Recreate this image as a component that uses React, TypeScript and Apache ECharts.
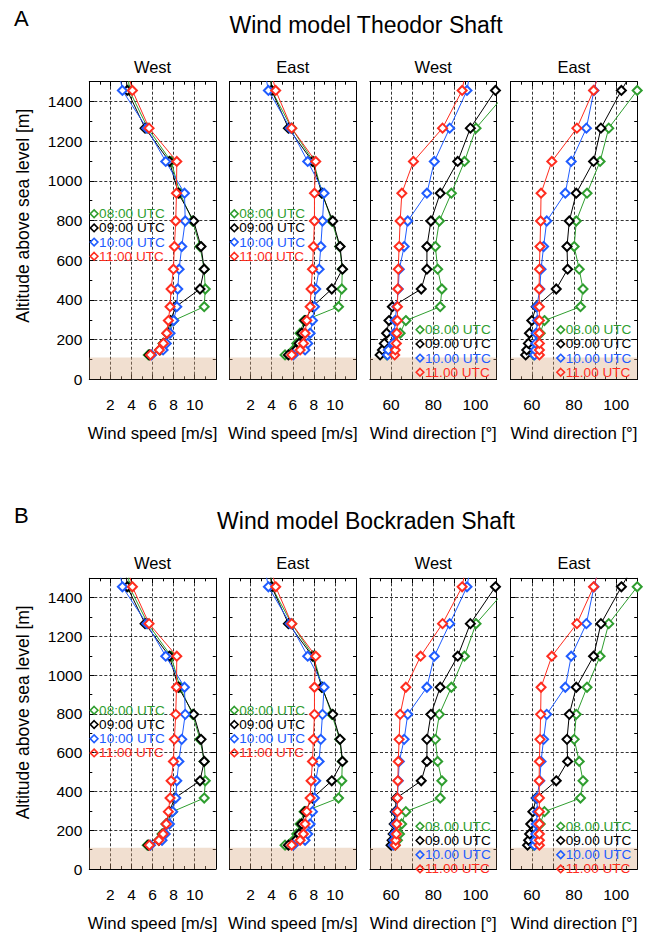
import React, { useEffect, useRef } from "react";
import * as echarts from "echarts";

// Altitude levels of the model [m]
const levels = [123, 148, 181, 232, 296, 366, 455, 555, 669, 798, 938, 1098, 1266, 1456, 1650];
const timesSpeed = ["08:00 UTC", "09:00 UTC", "10:00 UTC", "11:00 UTC"];
const timesDir = ["08.00 UTC", "09.00 UTC", "10.00 UTC", "11.00 UTC"];
const seriesColors = ["#2f9e2f", "#000000", "#1f5cff", "#ff2d1f"];

const sectionLetters = ["A", "B"];
const sectionTitles = ["Wind model Theodor Shaft", "Wind model Bockraden Shaft"];
const panelTitles = ["West", "East", "West", "East"];
const panelXNames = ["Wind speed [m/s]", "Wind speed [m/s]", "Wind direction [°]", "Wind direction [°]"];
const yName = "Altitude above sea level [m]";

// Theodor Shaft (A): each row = 08, 09, 10, 11 UTC, values per level
const theodorWestSpeed = [
  [5.6, 6.7, 7.0, 7.4, 8.0, 10.9, 11.0, 10.9, 10.5, 9.8, 8.6, 7.76, 5.55, 3.8, 3.5],
  [5.7, 6.7, 7.05, 7.4, 7.7, 8.2, 10.5, 10.9, 10.6, 9.9, 8.45, 7.6, 5.29, 3.6, 3.3],
  [5.9, 7.0, 7.3, 7.66, 8.0, 8.3, 8.39, 8.52, 8.77, 9.1, 9.03, 7.25, 5.45, 3.14, 2.5],
  [5.8, 6.65, 7.03, 7.35, 7.5, 7.66, 7.76, 7.98, 8.07, 8.2, 8.27, 8.3, 5.67, 4.09, 3.2],
];
const theodorEastSpeed = [
  [5.27, 6.06, 6.38, 6.69, 7.08, 10.34, 10.65, 10.7, 10.45, 9.7, 8.8, 7.96, 5.9, 4.0, 3.8],
  [5.59, 6.28, 6.6, 6.85, 7.17, 7.87, 9.7, 10.72, 10.49, 9.8, 8.75, 7.87, 5.59, 4.0, 3.7],
  [6.06, 7.17, 7.42, 7.65, 7.87, 8.06, 8.18, 8.5, 8.66, 8.82, 8.97, 7.42, 5.75, 3.69, 3.0],
  [5.9, 6.7, 7.01, 7.17, 7.33, 7.65, 7.74, 7.87, 7.96, 8.06, 8.06, 8.18, 5.9, 4.38, 3.5],
];
const theodorWestDir = [
  [58, 60, 62, 64.3, 67, 83.3, 84.1, 82.1, 81, 82.9, 88.6, 94.8, 100.3, 115.6, 128],
  [54.8, 55.9, 56.8, 57.9, 59, 60.6, 74.3, 77, 77, 78.9, 83.3, 91.6, 97.6, 109.5, 122],
  [58.3, 58.7, 61, 61.6, 61.9, 62.7, 63.4, 63.9, 66.2, 67.9, 77, 80.5, 87.8, 96, 99],
  [61.7, 62, 62.5, 62.7, 63, 63, 63.2, 63.4, 63.8, 64.3, 65.1, 70.6, 84.4, 93.7, 97],
];
const theodorEastDir = [
  [61, 62, 63, 64, 66, 83.1, 84.3, 82.5, 80.1, 81.1, 86.2, 92.4, 96.5, 110, 122],
  [57.1, 57.6, 58.4, 58.9, 60, 62.1, 71.6, 77, 76.7, 77.8, 81.1, 89.3, 92.8, 102.5, 113],
  [61.3, 61.6, 61.9, 62.1, 62.7, 62.4, 63.8, 64.4, 65.6, 67.1, 75.9, 78.7, 85.9, 89.5, 94],
  [63.6, 63.6, 63.6, 63.6, 63.6, 63.6, 63.5, 63.6, 63.9, 64.2, 64.4, 69.5, 81.4, 89.3, 95],
];

// Bockraden Shaft (B)
const bockradenWestSpeed = [
  [5.5, 6.6, 6.9, 7.3, 7.9, 10.9, 11.0, 10.9, 10.5, 9.8, 8.6, 7.76, 5.55, 3.8, 3.5],
  [5.6, 6.6, 7.0, 7.3, 7.6, 8.1, 10.5, 10.9, 10.6, 9.9, 8.45, 7.6, 5.29, 3.6, 3.3],
  [5.8, 6.9, 7.2, 7.6, 7.9, 8.2, 8.3, 8.5, 8.77, 9.1, 9.03, 7.25, 5.45, 3.14, 2.5],
  [5.7, 6.6, 7.0, 7.3, 7.5, 7.66, 7.76, 7.98, 8.07, 8.2, 8.27, 8.3, 5.67, 4.09, 3.2],
];
const bockradenEastSpeed = [
  [5.27, 6.06, 6.38, 6.69, 7.08, 10.34, 10.65, 10.7, 10.45, 9.7, 8.8, 7.96, 5.9, 4.0, 3.8],
  [5.59, 6.28, 6.6, 6.85, 7.17, 7.87, 9.7, 10.72, 10.49, 9.8, 8.75, 7.87, 5.59, 4.0, 3.7],
  [6.06, 7.17, 7.42, 7.65, 7.87, 8.06, 8.18, 8.5, 8.66, 8.82, 8.97, 7.42, 5.75, 3.69, 3.0],
  [5.9, 6.7, 7.01, 7.17, 7.33, 7.65, 7.74, 7.87, 7.96, 8.06, 8.06, 8.18, 5.9, 4.38, 3.5],
];
const bockradenWestDir = [
  [62, 63, 64, 65, 67, 83.3, 84.1, 82.1, 81, 82.9, 88.6, 94.8, 100.3, 115.6, 128],
  [60, 60.5, 61, 61.5, 62, 62.5, 74.3, 77, 77, 78.9, 83.3, 91.6, 97.6, 109.5, 122],
  [61, 61.3, 61.6, 62, 62.5, 63, 63.4, 63.9, 66.2, 67.9, 77, 80.5, 87.8, 96, 99],
  [62, 62.2, 62.5, 62.7, 63, 63, 63.2, 63.4, 63.8, 64.3, 67, 74, 84.4, 93.7, 97],
];
const bockradenEastDir = [
  [61, 62, 63, 64, 66, 83.1, 84.3, 82.5, 80.1, 81.1, 86.2, 92.4, 96.5, 110, 122],
  [58, 58.5, 59, 59.5, 60.5, 62.1, 71.6, 77, 76.7, 77.8, 81.1, 89.3, 92.8, 102.5, 113],
  [61.3, 61.6, 61.9, 62.1, 62.7, 62.4, 63.8, 64.4, 65.6, 67.1, 75.9, 78.7, 85.9, 89.5, 94],
  [63.6, 63.6, 63.6, 63.6, 63.6, 63.6, 63.5, 63.6, 63.9, 64.2, 64.4, 69.5, 81.4, 89.3, 95],
];

const sectionData = [
  [theodorWestSpeed, theodorEastSpeed, theodorWestDir, theodorEastDir],
  [bockradenWestSpeed, bockradenEastSpeed, bockradenWestDir, bockradenEastDir],
];

const groundTop = 110;

const FONT = "'Liberation Sans', Arial, Helvetica, sans-serif";
const panelLefts = [89.3, 229.5, 370, 510.7];
const panelWidth = 126.5;
const sectionTops = [81.7, 578.3];
const panelHeight = 297.6;

function buildOption() {
  const grid: any[] = [];
  const xAxis: any[] = [];
  const yAxis: any[] = [];
  const series: any[] = [];
  const graphic: any[] = [];

  const axisCommon = {
    axisLine: { show: true, onZero: false, lineStyle: { color: "#000", width: 1 } },
    axisTick: { show: true, inside: true, length: 5, lineStyle: { color: "#000", width: 1 } },
    minorTick: { show: true, inside: true, splitNumber: 2, length: 3, lineStyle: { color: "#000", width: 1 } },
  };
  const splitLine = { show: true, lineStyle: { color: "#000", type: [3, 2], width: 0.8 } };

  const gridIdx: number[][] = [];
  let gi = 0;
  for (let s = 0; s < 2; s++) {
    gridIdx.push([]);
    for (let p = 0; p < 4; p++) {
      grid.push({ left: panelLefts[p], top: sectionTops[s], width: panelWidth, height: panelHeight, containLabel: false });
      gridIdx[s].push(gi);
      gi++;
    }
  }
  for (let s = 0; s < 2; s++) {
    for (let p = 0; p < 4; p++) {
      const g = gridIdx[s][p];
      const isSpeed = p < 2;
      xAxis.push({
        type: "value",
        gridIndex: g,
        position: "bottom",
        min: isSpeed ? 0 : 50,
        max: isSpeed ? 12 : 110,
        interval: isSpeed ? 2 : 10,
        ...axisCommon,
        splitLine,
        axisLabel: {
          show: true,
          margin: 17,
          fontSize: 15.5,
          color: "#000",
          fontFamily: FONT,
          formatter: (v: number) =>
            isSpeed ? (v > 0 && v < 12 ? String(v) : "") : v === 60 || v === 80 || v === 100 ? String(v) : "",
        },
        name: panelXNames[p],
        nameLocation: "middle",
        nameGap: 46,
        nameTextStyle: { fontSize: 16.8, color: "#000", fontFamily: FONT },
      });
      yAxis.push({
        type: "value",
        gridIndex: g,
        position: "left",
        min: 0,
        max: 1500,
        interval: 200,
        ...axisCommon,
        splitLine,
        axisLabel: {
          show: p === 0,
          margin: 7,
          fontSize: 15.5,
          color: "#000",
          fontFamily: FONT,
          formatter: (v: number) => (v <= 1400 ? String(v) : ""),
        },
      });
    }
  }
  // mirror axes: ticks on the top and right edges
  for (let s = 0; s < 2; s++) {
    for (let p = 0; p < 4; p++) {
      const g = gridIdx[s][p];
      const isSpeed = p < 2;
      xAxis.push({
        type: "value",
        gridIndex: g,
        position: "top",
        min: isSpeed ? 0 : 50,
        max: isSpeed ? 12 : 110,
        interval: isSpeed ? 2 : 10,
        ...axisCommon,
        splitLine: { show: false },
        axisLabel: { show: false },
      });
      yAxis.push({
        type: "value",
        gridIndex: g,
        position: "right",
        min: 0,
        max: 1500,
        interval: 200,
        ...axisCommon,
        splitLine: { show: false },
        axisLabel: { show: false },
      });
    }
  }

  for (let s = 0; s < 2; s++) {
    for (let p = 0; p < 4; p++) {
      const g = gridIdx[s][p];
      const panel = sectionData[s][p];
      for (let k = 0; k < 4; k++) {
        const data = levels.map((alt, i) => [panel[k][i], alt]);
        const ser: any = {
          type: "line",
          xAxisIndex: g,
          yAxisIndex: g,
          data,
          symbol: "emptyDiamond",
          symbolSize: 9,
          showSymbol: true,
          clip: true,
          z: 3 + k,
          lineStyle: { color: seriesColors[k], width: 1 },
          itemStyle: { color: seriesColors[k], borderColor: seriesColors[k], borderWidth: 1.8 },
          emphasis: { disabled: true },
        };
        if (k === 0) {
          ser.markArea = {
            silent: true,
            z: 1,
            itemStyle: { color: "rgba(215,165,125,0.36)" },
            data: [[{ yAxis: 0 }, { yAxis: groundTop }]],
          };
        }
        series.push(ser);
      }
      // legend
      const isSpeed = p < 2;
      const left = panelLefts[p];
      const top = sectionTops[s];
      const labels = isSpeed ? timesSpeed : timesDir;
      for (let k = 0; k < 4; k++) {
        const cx = isSpeed ? left + 4.8 : left + 50;
        const cy = isSpeed ? top + 132 + k * 14.2 : top + 248 + k * 14.2;
        graphic.push({
          type: "polygon",
          z: 20,
          shape: { points: [[cx, cy - 3.8], [cx + 3.8, cy], [cx, cy + 3.8], [cx - 3.8, cy]] },
          style: { fill: "none", stroke: seriesColors[k], lineWidth: 1.6 },
        });
        graphic.push({
          type: "text",
          z: 20,
          x: cx + 5,
          y: cy,
          style: {
            text: labels[k],
            fill: seriesColors[k],
            font: `13.6px ${FONT}`,
            align: "left",
            textAlign: "left",
            verticalAlign: "middle",
            textVerticalAlign: "middle",
          },
        });
      }
      graphic.push({
        type: "text",
        x: left + panelWidth / 2,
        y: top - 15,
        style: {
          text: panelTitles[p],
          fill: "#000",
          font: `16.5px ${FONT}`,
          align: "center",
          textAlign: "center",
          verticalAlign: "middle",
          textVerticalAlign: "middle",
        },
      });
    }
    const top = sectionTops[s];
    graphic.push({
      type: "text",
      x: 14,
      y: top - 63,
      style: { text: sectionLetters[s], fill: "#000", font: `22px ${FONT}`, align: "left", textAlign: "left", verticalAlign: "middle", textVerticalAlign: "middle" },
    });
    graphic.push({
      type: "text",
      x: 366,
      y: top - 57,
      style: { text: sectionTitles[s], fill: "#000", font: `23px ${FONT}`, align: "center", textAlign: "center", verticalAlign: "middle", textVerticalAlign: "middle" },
    });
    graphic.push({
      type: "text",
      x: 23,
      y: top + 134,
      rotation: Math.PI / 2,
      style: { text: yName, fill: "#000", font: `17.5px ${FONT}`, align: "center", textAlign: "center", verticalAlign: "middle", textVerticalAlign: "middle" },
    });
  }

  return {
    animation: false,
    backgroundColor: "#ffffff",
    textStyle: { fontFamily: FONT },
    grid,
    xAxis,
    yAxis,
    series,
    graphic,
  };
}

export default function App() {
  const ref = useRef<HTMLDivElement>(null);
  useEffect(() => {
    document.body.style.margin = "0";
    if (!ref.current) return;
    const chart = echarts.init(ref.current, undefined, { renderer: "svg" });
    chart.setOption(buildOption() as any);
    return () => chart.dispose();
  }, []);
  return <div ref={ref} style={{ width: 646, height: 933 }} />;
}
